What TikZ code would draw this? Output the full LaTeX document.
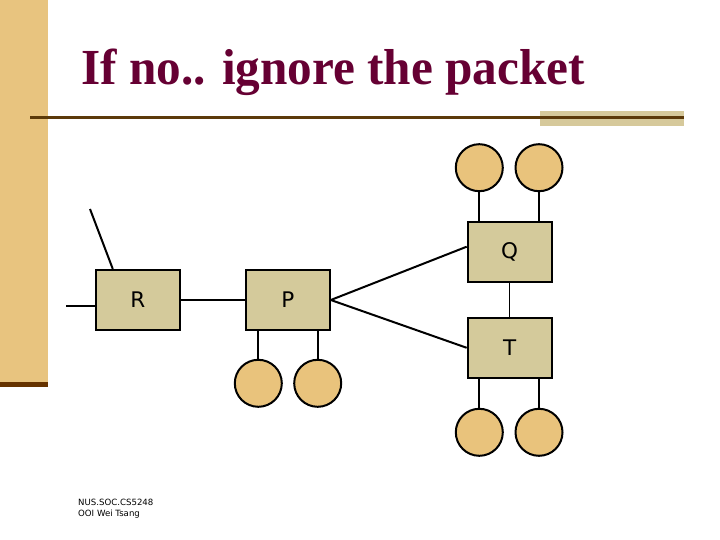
\documentclass[tikz,border=0pt]{standalone}
\usepackage{fontspec}
\setmainfont{Liberation Serif}
\newfontfamily\labfont{DejaVu Sans}
\usetikzlibrary{calc}
\definecolor{titlecol}{HTML}{660033}
\definecolor{barcol}{HTML}{E8C47F}
\definecolor{barline}{HTML}{663300}
\definecolor{rulecol}{HTML}{5C3A0A}
\definecolor{ruletan}{HTML}{D6C99B}
\definecolor{boxfill}{HTML}{D4CA9B}
\definecolor{hostfill}{HTML}{E9C37C}
\tikzset{
  router/.style={draw=black, line width=2pt, fill=boxfill, rectangle,
    minimum width=84pt, minimum height=60pt, inner sep=0pt,
    font=\labfont\fontsize{21.5}{24}\selectfont},
  host/.style={draw=black, line width=2pt, fill=hostfill, circle,
    minimum size=47pt, inner sep=0pt},
  link/.style={draw=black, line width=2pt},
  thinlink/.style={draw=black, line width=1pt}
}
\begin{document}
\begin{tikzpicture}[x=1pt,y=-1pt]
\useasboundingbox (0,0) rectangle (720,540);
\fill[white] (0,0) rectangle (720,540);
% left bar
\fill[barcol] (0,0) rectangle (48,382);
\fill[barline] (0,382) rectangle (48,387);
% title rule
\fill[ruletan] (540,111) rectangle (684,126.5);
\draw[rulecol, line width=3pt] (30,117.3) -- (684,117.3);
% title
\node[anchor=base west, inner sep=0pt, text=titlecol,
  font=\bfseries\fontsize{50.5}{56}\selectfont] (title) at (81,85) {\scalebox{0.975}[1]{If no.. ignore the packet}};
% routers
\node[router] (R) at (137.8,300) {R};
\node[router] (P) at (287.8,300) {P};
\node[router] (Q) at (509.7,251.7) {Q};
\node[router] (T) at (509.7,347.8) {T};
% hosts
\node[host] (q1) at (479.3,167.7) {};
\node[host] (q2) at (539,167.7) {};
\node[host] (t1) at (479.3,432.3) {};
\node[host] (t2) at (539,432.3) {};
\node[host] (p1) at (258.3,383.3) {};
\node[host] (p2) at (317.7,383.3) {};
% free ends
\coordinate (rl) at (66,306);
\coordinate (rd) at (90,209);
% links
\draw[link] (rl) -- (rl -| R.west);
\draw[link] (rd) -- ($(R.north west)+(18,0)$);
\draw[link] (R.east) -- (P.west);
\draw[link] (P.east) -- ($(Q.west)+(0,-5)$);
\draw[link] (P.east) -- (T.west);
\draw[thinlink] (Q.south) -- (T.north);
\draw[link] (q1.south) -- (q1.south |- Q.north);
\draw[link] (q2.south) -- (q2.south |- Q.north);
\draw[link] (t1.north) -- (t1.north |- T.south);
\draw[link] (t2.north) -- (t2.north |- T.south);
\draw[link] (p1.north) -- (p1.north |- P.south);
\draw[link] (p2.north) -- (p2.north |- P.south);
% footer
\node[anchor=west, inner sep=0pt, align=left,
  font=\labfont\fontsize{8.6}{10.5}\selectfont] (foot) at (78,508.5) {NUS.SOC.CS5248\\OOI Wei Tsang};
\end{tikzpicture}
\end{document}
